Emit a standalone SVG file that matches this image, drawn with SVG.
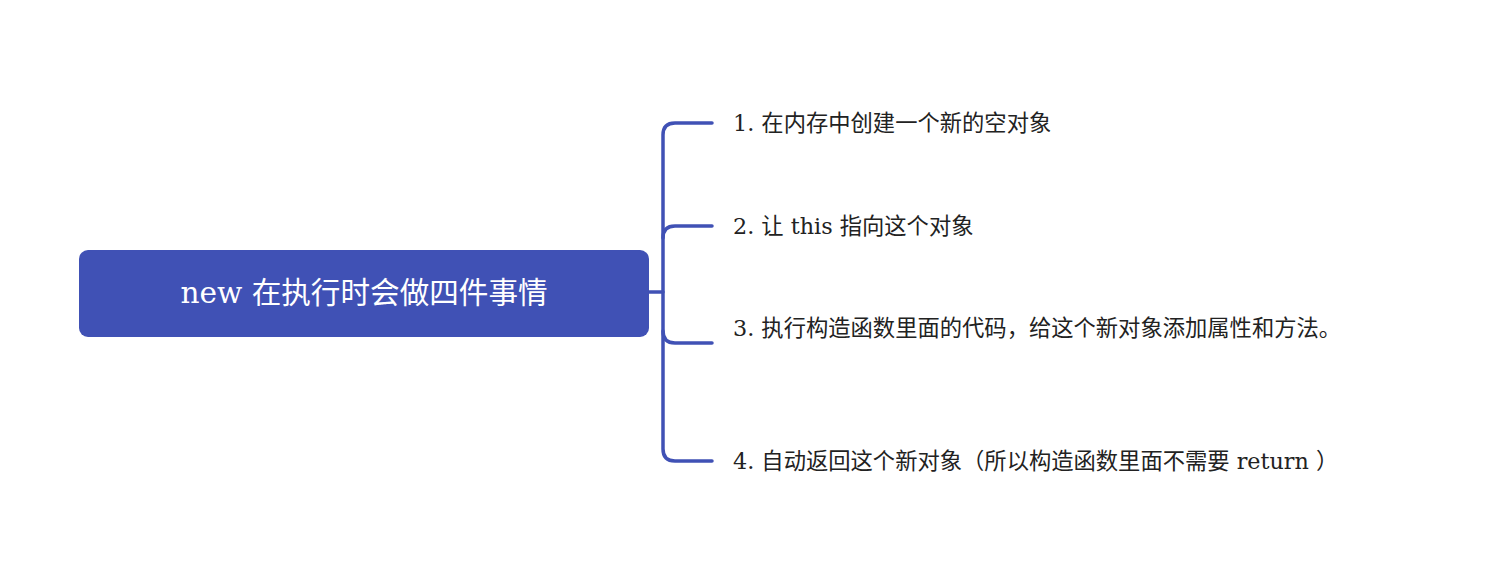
<svg xmlns="http://www.w3.org/2000/svg" width="1498" height="588" viewBox="0 0 1498 588">
<style>
.t{font-family:"DejaVu Serif","Noto Sans CJK SC",serif;font-size:22.3px;fill:#222;}
.r{font-family:"DejaVu Serif","Noto Sans CJK SC",serif;font-size:29.6px;fill:#fff;}
.c{fill:none;stroke:#4051B5;stroke-width:3.5;stroke-linecap:round;stroke-linejoin:round;}
</style>
<rect width="1498" height="588" fill="#fff"/>
<g id="connectors">
<path class="c" d="M649 292 H663"/>
<path class="c" d="M712 123 H675 Q663 123 663 135 V449 Q663 461 675 461 H712"/>
<path class="c" d="M663 238 Q663 226 675 226 H712"/>
<path class="c" d="M663 331 Q663 343 675 343 H712"/>
</g>
<g id="root">
<rect x="79" y="250" width="570" height="87" rx="9" fill="#4051B5"/>
<text class="r" x="364" y="303" text-anchor="middle">new 在执行时会做四件事情</text>
</g>
<g id="n1"><text class="t" x="733" y="131">1. 在内存中创建一个新的空对象</text></g>
<g id="n2"><text class="t" x="733" y="234">2. 让 this 指向这个对象</text></g>
<g id="n3"><text class="t" x="733" y="336">3. 执行构造函数里面的代码，给这个新对象添加属性和方法。</text></g>
<g id="n4"><text class="t" x="733" y="469">4. 自动返回这个新对象（所以构造函数里面不需要 return ）</text></g>
</svg>
